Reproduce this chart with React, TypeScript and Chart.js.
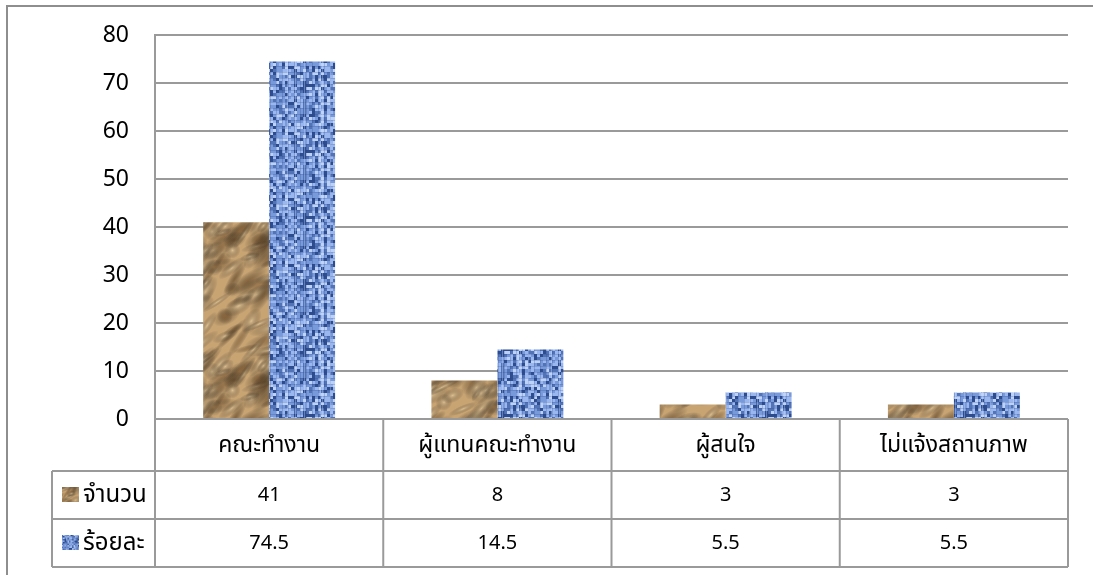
import React, { useEffect, useRef } from "react";
import { Chart, registerables } from "chart.js";

Chart.register(...registerables);

const categories = ["คณะทำงาน", "ผู้แทนคณะทำงาน", "ผู้สนใจ", "ไม่แจ้งสถานภาพ"];
const seriesNames = ["จำนวน", "ร้อยละ"];
const countValues = [41, 8, 3, 3];
const percentValues = [74.5, 14.5, 5.5, 5.5];
const yMin = 0;
const yMax = 80;
const yStep = 10;

const FONT = "'Noto Sans', 'Noto Sans Thai', 'Open Sans', sans-serif";
const LINE = "#9a9a9a";

function makeRng(seed: number) {
  let s = seed >>> 0;
  return () => {
    s = (Math.imul(s, 1664525) + 1013904223) >>> 0;
    return s / 4294967296;
  };
}

function brownCanvas(): HTMLCanvasElement {
  const n = 140;
  const c = document.createElement("canvas");
  c.width = n;
  c.height = n;
  const g = c.getContext("2d")!;
  g.fillStyle = "#c8a473";
  g.fillRect(0, 0, n, n);
  const r = makeRng(23);
  for (let i = 0; i < 120; i++) {
    const x = r() * n, y = r() * n;
    const rx = 8 + r() * 18, ry = 3 + r() * 6;
    const ang = -0.6 + (r() - 0.5) * 0.9;
    const t = r();
    const col = t < 0.38 ? "rgba(120,82,42,0.5)" : t < 0.52 ? "rgba(75,48,20,0.55)" : "rgba(236,210,165,0.6)";
    for (const dx of [-n, 0, n]) for (const dy of [-n, 0, n]) {
      g.save();
      g.translate(x + dx, y + dy);
      g.rotate(ang);
      g.scale(1, ry / rx);
      const grad = g.createRadialGradient(0, 0, 0, 0, 0, rx);
      grad.addColorStop(0, col);
      grad.addColorStop(1, "rgba(0,0,0,0)");
      g.fillStyle = grad;
      g.beginPath();
      g.arc(0, 0, rx, 0, Math.PI * 2);
      g.fill();
      g.restore();
    }
  }
  return c;
}

function blueCanvas(): HTMLCanvasElement {
  const n = 66;
  const c = document.createElement("canvas");
  c.width = n;
  c.height = n;
  const g = c.getContext("2d")!;
  g.fillStyle = "#7f9ede";
  g.fillRect(0, 0, n, n);
  const r = makeRng(9);
  const cs = 3;
  for (let yy = 0; yy < n; yy += cs) {
    for (let xx = 0; xx < n; xx += cs) {
      const v = r();
      let col = "#86a6e4";
      if (v < 0.14) col = "#2d4d8f";
      else if (v < 0.32) col = "#5273b6";
      else if (v < 0.58) col = "#7899da";
      else if (v < 0.84) col = "#9ab8ef";
      else col = "#bcd2f8";
      g.fillStyle = col;
      g.fillRect(xx, yy, cs, cs);
    }
  }
  for (let i = 0; i < n; i += 6) {
    g.fillStyle = "rgba(40,65,130,0.22)";
    g.fillRect(i, 0, 1, n);
    g.fillRect(0, i, n, 1);
  }
  for (let i = 0; i < 6; i++) {
    const x = Math.floor(r() * n);
    g.fillStyle = "rgba(200,220,255,0.35)";
    g.fillRect(x, 0, 1, n);
  }
  return c;
}

export default function App() {
  const ref = useRef<HTMLCanvasElement | null>(null);

  useEffect(() => {
    const canvas = ref.current!;
    const ctx = canvas.getContext("2d")!;
    const bc = brownCanvas();
    const uc = blueCanvas();
    const brown = ctx.createPattern(bc, "repeat")!;
    const blue = ctx.createPattern(uc, "repeat")!;
    const tableValues = [countValues, percentValues];
    const keyCanvases = [bc, uc];

    const tablePlugin = {
      id: "dataTable",
      afterDraw(chart: any) {
        const c = chart.ctx as CanvasRenderingContext2D;
        const xs = chart.scales.x;
        const area = chart.chartArea;
        const left = area.left;
        const right = area.right;
        const top = area.bottom;
        const r1 = top + 52;
        const r2 = r1 + 48;
        const r3 = r2 + 48;
        const labelLeft = 52;
        c.save();
        c.strokeStyle = "#8e8e8e";
        c.lineWidth = 2;
        c.beginPath();
        c.moveTo(7, 580);
        c.lineTo(7, 6);
        c.lineTo(1100, 6);
        c.stroke();
        c.strokeStyle = LINE;
        c.lineWidth = 2;
        c.beginPath();
        c.moveTo(left, top); c.lineTo(right, top);
        c.moveTo(labelLeft, r1); c.lineTo(right, r1);
        c.moveTo(labelLeft, r2); c.lineTo(right, r2);
        c.moveTo(labelLeft, r3); c.lineTo(right, r3);
        c.moveTo(labelLeft, r1); c.lineTo(labelLeft, r3);
        const n = categories.length;
        const w = (right - left) / n;
        for (let i = 0; i <= n; i++) {
          const x = left + w * i;
          c.moveTo(x, top); c.lineTo(x, r3);
        }
        c.stroke();
        c.fillStyle = "#000";
        c.textAlign = "center";
        c.textBaseline = "middle";
        categories.forEach((cat, i) => {
          const cx = xs.getPixelForValue(i);
          c.font = `23px ${FONT}`;
          c.fillText(cat, cx, (top + r1) / 2);
          c.font = `20px ${FONT}`;
          c.fillText(String(tableValues[0][i]), cx, (r1 + r2) / 2);
          c.fillText(String(tableValues[1][i]), cx, (r2 + r3) / 2);
        });
        c.textAlign = "left";
        c.font = `24px ${FONT}`;
        const rowsY = [(r1 + r2) / 2, (r2 + r3) / 2];
        seriesNames.forEach((nm, k) => {
          const y = rowsY[k];
          c.drawImage(keyCanvases[k], 10, 10, 34, 30, 62, y - 8, 17, 15);
          c.fillText(nm, 83, y);
        });
        c.restore();
      },
    };

    const chart = new Chart(canvas, {
      type: "bar",
      data: {
        labels: categories,
        datasets: [
          { label: seriesNames[0], data: countValues, backgroundColor: brown, borderWidth: 0 },
          { label: seriesNames[1], data: percentValues, backgroundColor: blue, borderWidth: 0 },
        ],
      },
      options: {
        animation: false,
        responsive: false,
        devicePixelRatio: 1,
        layout: { padding: { top: 35, bottom: 156, left: 0, right: 25 } },
        plugins: { legend: { display: false }, tooltip: { enabled: false } },
        datasets: { bar: { categoryPercentage: 0.578, barPercentage: 1 } },
        scales: {
          x: { display: false },
          y: {
            min: yMin,
            max: yMax,
            ticks: {
              stepSize: yStep,
              padding: 26,
              color: "#000",
              font: { family: FONT, size: 23 },
            },
            grid: { color: LINE, lineWidth: 2, drawTicks: false },
            border: { display: true, color: LINE, width: 2 },
            afterFit: (s: any) => { s.width = 155; s.paddingTop = 0; s.paddingBottom = 0; },
          },
        },
      },
      plugins: [tablePlugin],
    } as any);
    return () => chart.destroy();
  }, []);

  return (
    <div style={{ position: "fixed", left: 0, top: 0, width: 1093, height: 575, background: "#fff" }}>
      <canvas ref={ref} width={1093} height={575} style={{ display: "block" }} />
    </div>
  );
}
